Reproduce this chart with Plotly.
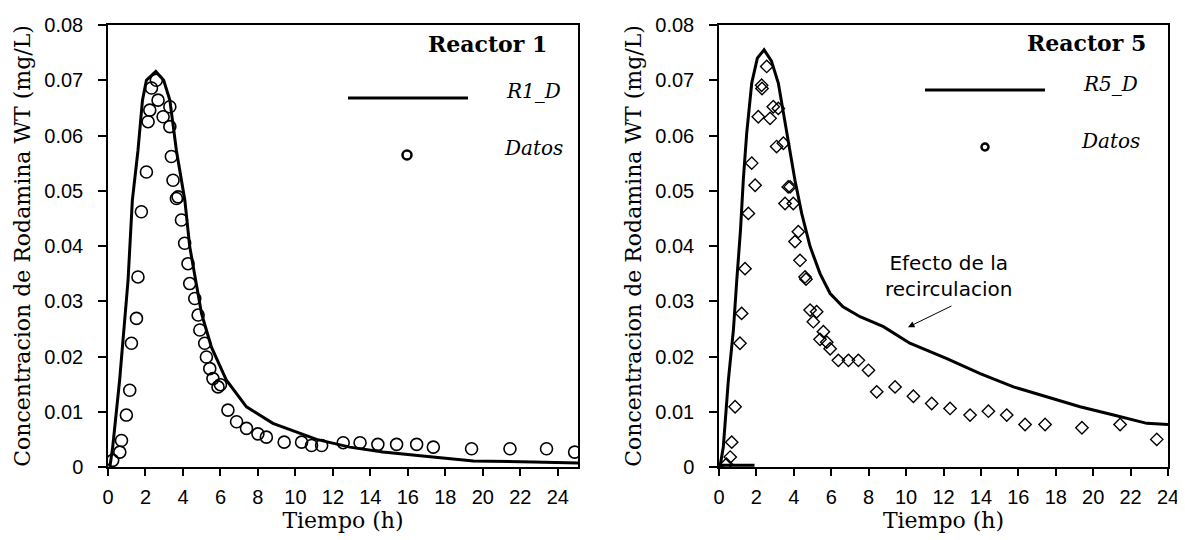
import plotly.graph_objects as go

# ---------------- data ----------------
r1_line_x = [0.1, 0.25, 0.62, 1.07, 1.3, 1.6, 1.84, 2.05, 2.55, 2.97, 3.3, 3.65, 4.1, 4.36, 4.99,
             5.52, 6.32, 7.39, 8.8, 10.2, 11.13, 12.9, 14.67, 17.33, 19.5, 22.7, 25.1]
r1_line_y = [0.0, 0.0036, 0.0157, 0.0338, 0.0483, 0.0573, 0.0664, 0.0700, 0.0716, 0.0700, 0.0664,
             0.0573, 0.0483, 0.0399, 0.0278, 0.0217, 0.0157, 0.0109, 0.0079, 0.0061, 0.0050,
             0.0036, 0.0027, 0.0018, 0.0011, 0.0009, 0.0007]

r1_data_x = [0.25, 0.63, 0.72, 0.98, 1.16, 1.25, 1.52, 1.6, 1.78, 2.05, 2.14, 2.23, 2.32, 2.58,
             2.67, 2.94, 3.3, 3.3, 3.38, 3.47, 3.65, 3.74, 3.92, 4.09, 4.27, 4.36, 4.63, 4.81,
             4.9, 5.16, 5.25, 5.43, 5.6, 5.87, 6.0, 6.4, 6.86, 7.39, 8.0, 8.45, 9.4, 10.33,
             10.86, 11.4, 12.55, 13.45, 14.4, 15.4, 16.47, 17.36, 19.4, 21.45, 23.4, 24.9]
r1_data_y = [0.0012, 0.0027, 0.0048, 0.0094, 0.0139, 0.0224, 0.0269, 0.0344, 0.0462, 0.0534,
             0.0625, 0.0646, 0.0686, 0.0700, 0.0664, 0.0634, 0.0652, 0.0616, 0.0562, 0.0519,
             0.0486, 0.0489, 0.0447, 0.0405, 0.0368, 0.0332, 0.0305, 0.0275, 0.0248, 0.0224,
             0.0199, 0.0178, 0.0160, 0.0145, 0.0149, 0.0103, 0.0082, 0.0070, 0.0060, 0.0054,
             0.0045, 0.0045, 0.0039, 0.0039, 0.0044, 0.0044, 0.0041, 0.0041, 0.0041, 0.0036,
             0.0033, 0.0033, 0.0033, 0.0027]

r5_line_x = [0.05, 0.23, 0.5, 0.77, 0.95, 1.15, 1.3, 1.48, 1.75, 2.05, 2.41, 2.8, 3.17, 3.62,
             4.06, 4.42, 4.87, 5.4, 5.94, 6.63, 7.54, 8.79, 10.2, 12.18, 13.96, 15.74, 17.52,
             19.3, 21.09, 22.87, 24.0]
r5_line_y = [0.0, 0.0036, 0.0157, 0.0248, 0.0338, 0.0429, 0.0520, 0.0604, 0.0695, 0.0740,
             0.0755, 0.0735, 0.0695, 0.0604, 0.0519, 0.0459, 0.0399, 0.0350, 0.0314, 0.0290,
             0.0272, 0.0254, 0.0224, 0.0196, 0.0169, 0.0145, 0.0127, 0.0109, 0.0094, 0.0079,
             0.0077]
# short flat piece of the model curve near zero at the start
r5_base_x = [0.0, 1.9]
r5_base_y = [0.0003, 0.0003]

r5_data_x = [0.4, 0.6, 0.68, 0.86, 1.12, 1.21, 1.39, 1.57, 1.75, 1.93, 2.1, 2.28, 2.3, 2.55,
             2.73, 2.9, 3.08, 3.17, 3.44, 3.53, 3.7, 3.8, 3.97, 4.06, 4.24, 4.33, 4.6, 4.65,
             4.87, 5.04, 5.22, 5.4, 5.58, 5.76, 5.94, 6.38, 6.92, 7.45, 7.99, 8.43, 9.41,
             10.39, 11.37, 12.35, 13.42, 14.4, 15.38, 16.36, 17.43, 19.4, 21.44, 23.4]
r5_data_y = [0.0005, 0.0018, 0.0045, 0.0109, 0.0224, 0.0278, 0.0359, 0.0459, 0.0550, 0.0510,
             0.0634, 0.0691, 0.0685, 0.0725, 0.0631, 0.0652, 0.0580, 0.0649, 0.0586, 0.0477,
             0.0507, 0.0507, 0.0477, 0.0408, 0.0426, 0.0374, 0.0344, 0.0340, 0.0284, 0.0263,
             0.0281, 0.0231, 0.0245, 0.0226, 0.0214, 0.0193, 0.0193, 0.0193, 0.0175, 0.0136,
             0.0145, 0.0128, 0.0115, 0.0106, 0.0094, 0.0101, 0.0094, 0.0077, 0.0077, 0.0071,
             0.0077, 0.0050]

x_tickvals = list(range(0, 25, 2))
x_ticktext = [str(v) for v in x_tickvals]
y_tickvals = [0, 0.01, 0.02, 0.03, 0.04, 0.05, 0.06, 0.07, 0.08]
y_ticktext = ["0", "0.01", "0.02", "0.03", "0.04", "0.05", "0.06", "0.07", "0.08"]

x_title = "Tiempo (h)"
y_title = "Concentracion de Rodamina WT (mg/L)"
panel_titles = ["Reactor 1", "Reactor 5"]
series_names = ["R1_D", "R5_D"]
data_name = "Datos"
note_text = "Efecto de la<br>recirculacion"

# ---------------- figure ----------------
# page body has an 8px default margin -> figure is offset by (8, 8) in the window
OX, OY = 8, 8
W, H = 1185 - OX, 540 - OY


def px(x):
    return (x - OX) / W


def py(y):
    return 1 - (y - OY) / H


fig = go.Figure()

fig.add_trace(go.Scatter(x=r1_line_x, y=r1_line_y, mode="lines", name=series_names[0],
                         line=dict(color="black", width=3), xaxis="x", yaxis="y"))
fig.add_trace(go.Scatter(x=r1_data_x, y=r1_data_y, mode="markers", name=data_name,
                         marker=dict(symbol="circle-open", size=12, color="black",
                                     line=dict(width=1.6, color="black")),
                         xaxis="x", yaxis="y"))
fig.add_trace(go.Scatter(x=r5_line_x, y=r5_line_y, mode="lines", name=series_names[1],
                         line=dict(color="black", width=3), xaxis="x2", yaxis="y2"))
fig.add_trace(go.Scatter(x=r5_base_x, y=r5_base_y, mode="lines", name=series_names[1],
                         line=dict(color="black", width=3), xaxis="x2", yaxis="y2"))
fig.add_trace(go.Scatter(x=r5_data_x, y=r5_data_y, mode="markers", name=data_name,
                         marker=dict(symbol="diamond-open", size=9.5, color="black",
                                     line=dict(width=1.4, color="black")),
                         xaxis="x2", yaxis="y2"))

tick_font = dict(family="Liberation Sans", size=20, color="black")
title_font = dict(family="DejaVu Serif", size=22, color="black")


def xax(domain, rng, anchor):
    return dict(domain=domain, range=rng, anchor=anchor, automargin=False, showline=True,
                linecolor="black", linewidth=1.5, mirror=True, ticks="outside", ticklen=7,
                tickwidth=1.5, tickcolor="black", tickvals=x_tickvals, ticktext=x_ticktext,
                showgrid=False, zeroline=False, tickfont=tick_font, ticklabelstandoff=4,
                title=dict(text=x_title, font=title_font, standoff=4))


def yax(domain, anchor):
    return dict(domain=domain, range=[0, 0.08], anchor=anchor, automargin=False,
                showline=True, linecolor="black", linewidth=1.5, mirror=True,
                ticks="outside", ticklen=8, tickwidth=1.5, tickcolor="black",
                tickvals=y_tickvals, ticktext=y_ticktext, showgrid=False, zeroline=False,
                tickfont=tick_font, ticklabelstandoff=11,
                title=dict(text=y_title, font=title_font, standoff=8))


ydom = [py(467), py(25)]
fig.update_layout(
    width=W, height=H, margin=dict(l=0, r=0, t=0, b=0, pad=0, autoexpand=False),
    paper_bgcolor="white", plot_bgcolor="white", showlegend=False,
    xaxis=xax([px(108), px(578)], [0, 25.08], "y"),
    yaxis=yax(ydom, "x"),
    xaxis2=xax([px(719), px(1168)], [0, 24], "y2"),
    yaxis2=yax(ydom, "x2"),
)

# legend keys (paper coordinates)
shapes = [
    dict(type="line", xref="paper", yref="paper", x0=px(348), x1=px(468),
         y0=py(98), y1=py(98), line=dict(color="black", width=3)),
    dict(type="circle", xref="paper", yref="paper", x0=px(402.5), x1=px(411.5),
         y0=py(159.5), y1=py(150.5), line=dict(color="black", width=2.5)),
    dict(type="line", xref="paper", yref="paper", x0=px(925), x1=px(1045),
         y0=py(90), y1=py(90), line=dict(color="black", width=3)),
    dict(type="circle", xref="paper", yref="paper", x0=px(981.5), x1=px(988.5),
         y0=py(150.5), y1=py(143.5), line=dict(color="black", width=2.5)),
]
fig.update_layout(shapes=shapes)

lab_font = dict(family="DejaVu Serif", size=20, color="black")
bold_font = dict(family="DejaVu Serif", size=22, color="black")
ann = [
    dict(text="<b>" + panel_titles[0] + "</b>", x=px(549), y=py(44), xanchor="right",
         yanchor="middle", font=bold_font),
    dict(text="<i>" + series_names[0] + "</i>", x=px(533), y=py(91), xanchor="center",
         yanchor="middle", font=lab_font),
    dict(text="<i>" + data_name + "</i>", x=px(533), y=py(148), xanchor="center",
         yanchor="middle", font=lab_font),
    dict(text="<b>" + panel_titles[1] + "</b>", x=px(1148), y=py(43), xanchor="right",
         yanchor="middle", font=bold_font),
    dict(text="<i>" + series_names[1] + "</i>", x=px(1110), y=py(84), xanchor="center",
         yanchor="middle", font=lab_font),
    dict(text="<i>" + data_name + "</i>", x=px(1110), y=py(141), xanchor="center",
         yanchor="middle", font=lab_font),
    dict(text=note_text, x=px(948), y=py(276), xanchor="center", yanchor="middle",
         font=dict(family="DejaVu Sans", size=20, color="black"), align="center"),
]
for a in ann:
    a.update(xref="paper", yref="paper", showarrow=False)
ann.append(dict(text="", x=10.1, y=0.0253, xref="x2", yref="y2", showarrow=True,
                ax=45, ay=-22, arrowhead=2, arrowsize=1.3, arrowwidth=1, arrowcolor="black"))
fig.update_layout(annotations=ann)

fig.write_html("out.html")
